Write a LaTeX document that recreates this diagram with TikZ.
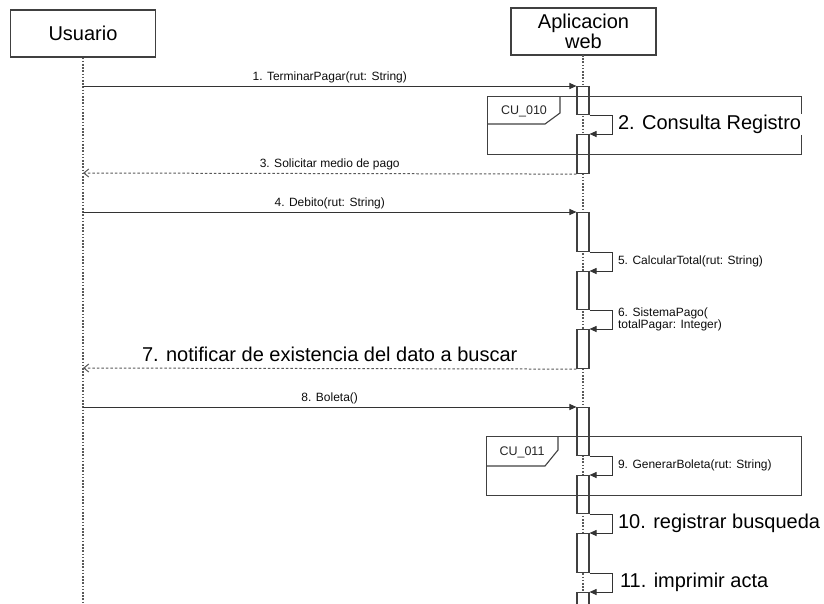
\documentclass[tikz,border=0pt]{standalone}
\usepackage{fontspec}
\setmainfont{Liberation Sans}
\usetikzlibrary{positioning,arrows.meta}

\begin{document}
\begin{tikzpicture}[x=1pt,y=-1pt]
\tikzstyle{every node}+=[inner sep=0pt]
\tikzstyle{actor}=[draw=black!75,line width=1.1pt,fill=white,minimum width=145pt,minimum height=47pt,align=center,font=\fontsize{20}{20}\selectfont]
\tikzstyle{life}=[draw=black!65,line width=1.5pt,dash pattern=on 1.6pt off 1.6pt]
\tikzstyle{bar}=[draw=black!75,line width=1.1pt,fill=white,minimum width=12pt,anchor=north]
\tikzstyle{frame}=[draw=black!75,line width=1.1pt]
\tikzstyle{call}=[draw=black!80,line width=1pt,-{Triangle[length=7pt,width=6pt]}]
\tikzstyle{reply}=[draw=black!65,line width=1pt,dash pattern=on 2.5pt off 2pt,-{Straight Barb[length=5pt,width=8pt]}]
\tikzstyle{small}=[font=\fontsize{12}{12}\selectfont,text=black!95,align=left]
\tikzstyle{big}=[font=\fontsize{20}{22}\selectfont,text=black]
\tikzstyle{tag}=[font=\fontsize{12.5}{14}\selectfont,text=black!85]
\useasboundingbox (0,0) rectangle (824,603);

% lifelines
\node[actor] (usr) at (83,33.5) {Usuario};
\node[actor] (app) at (583.5,31.5) {Aplicacion\\web};
\coordinate (usrend) at (83,606);
\coordinate (append) at (583,606);
\draw[life] (usr.south) -- (usrend);
\draw[life] (583,55) -- (append);

% activation bars
\node[bar,minimum height=28pt] (b1) at (583,86) {};
\node[bar,minimum height=39pt] (b2) at (583,134) {};
\node[bar,minimum height=39pt] (b3) at (583,212) {};
\node[bar,minimum height=38pt] (b4) at (583,271) {};
\node[bar,minimum height=39pt] (b5) at (583,329) {};
\node[bar,minimum height=48pt] (b6) at (583,407) {};
\node[bar,minimum height=38pt] (b7) at (583,475) {};
\node[bar,minimum height=39pt] (b8) at (583,533) {};
\node[bar,minimum height=16pt] (b9) at (583,592) {};

% interaction frames
\node[frame,minimum width=314pt,minimum height=58pt,anchor=north west] (cu10) at (487,96) {};
\draw[frame] (487,124) -- (545,124) -- (560,113) -- (560,96);
\node[tag] (t10) at (524,111) {CU\_010};
\node[frame,minimum width=315pt,minimum height=59pt,anchor=north west] (cu11) at (486,436) {};
\draw[frame] (486,466) -- (545,466) -- (558,450) -- (558,436);
\node[tag] (t11) at (522,452) {CU\_011};

% messages
\coordinate (u1) at (83,86);
\coordinate (u3) at (83,173);
\coordinate (u4) at (83,212);
\coordinate (u7) at (83,368);
\coordinate (u8) at (83,407);
\draw[call] (u1) -- node[small,above=3pt] {1. TerminarPagar(rut: String)} (b1.north west);
\draw[call] (b1.south east) -- ++(23,0) |- node[big,pos=0.25,right=4pt,fill=white,inner sep=1pt] {2. Consulta Registro} (b2.north east);
\draw[reply] (b2.south west) -- node[small,above=3pt] {3. Solicitar medio de pago} (u3);
\draw[call] (u4) -- node[small,above=3pt] {4. Debito(rut: String)} (b3.north west);
\draw[call] (b3.south east) -- ++(23,0) |- node[small,pos=0.25,right=5pt] {5. CalcularTotal(rut: String)} (b4.north east);
\draw[call] (b4.south east) -- ++(23,0) |- node[small,pos=0.25,right=5pt] {6. SistemaPago(\\totalPagar: Integer)} (b5.north east);
\draw[reply] (b5.south west) -- node[big,above=6pt] {7. notificar de existencia del dato a buscar} (u7);
\draw[call] (u8) -- node[small,above=3pt] {8. Boleta()} (b6.north west);
\draw[call] (b6.south east) -- ++(23,0) |- node[small,pos=0.25,right=5pt] {9. GenerarBoleta(rut: String)} (b7.north east);
\draw[call] (b7.south east) -- ++(23,0) |- node[big,pos=0.25,right=5pt] {10. registrar busqueda} (b8.north east);
\draw[call] (b8.south east) -- ++(23,0) |- node[big,pos=0.25,right=7pt] {11. imprimir acta} (b9.north east);
\end{tikzpicture}
\end{document}
